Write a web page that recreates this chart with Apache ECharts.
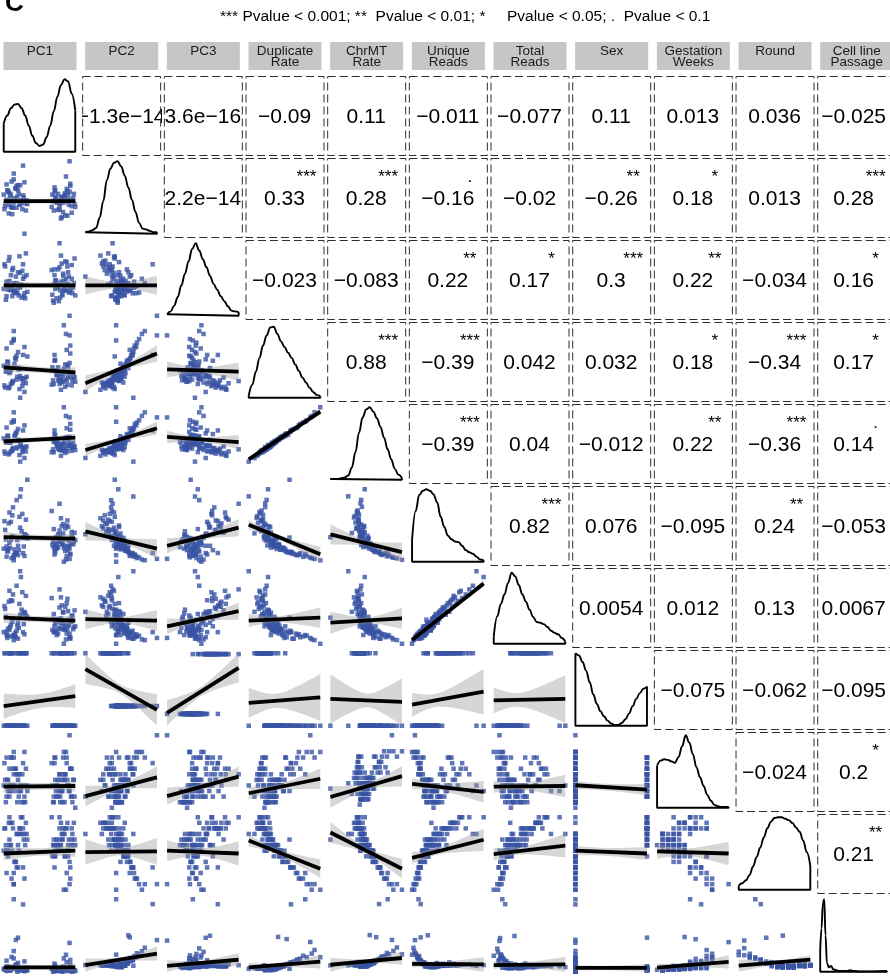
<!DOCTYPE html>
<html>
<head>
<meta charset="utf-8">
<title>pairs plot</title>
<script src="https://cdn.jsdelivr.net/npm/echarts/dist/echarts.min.js"></script>
<style>
  html, body { margin: 0; padding: 0; background: #fff; }
  #main { width: 890px; height: 980px; }
</style>
</head>
<body>
<div id="main"></div>
<script>
// strip labels, one per variable
const varLabels = ['PC1', 'PC2', 'PC3', 'Duplicate\nRate', 'ChrMT\nRate', 'Unique\nReads',
  'Total\nReads', 'Sex', 'Gestation\nWeeks', 'Round', 'Cell line\nPassage'];

// samples: same order in every array
const pc1 = [12,85,90,18,74,95,6,80,22,88, 70,27,93,10,82,76,15,98,3,86, 72,24,91,14,79,31,84,8,96,67,
  20,77,2,89,28,83,16,73,99,11, 68,26,94,5,81,19,87,75,13,92, 30,71,7,97,21,78,4,85,23,90,
  69,17,80,9,95,29,74,1,86,25, 72,12,93,33,83,6,100,20,79,14, 88,0,70,14,91,8,76,32,27,82,
  18,71,4,89,23,84,10,78,29,92];
const pc2 = [36,54,47,66,43,29,58,50,41,62, 45,53,69,37,47,33,49,55,42,25, 60,46,40,75,43,32,51,56,47,37,
  67,45,38,59,50,30,63,49,41,72, 54,34,46,60,23,51,79,43,36,58, 42,64,28,49,55,33,68,47,40,53,
  45,62,21,50,38,71,46,34,56,43, 51,27,66,41,49,59,37,60,42,83, 47,54,32,43,45,40,55,46,94,51,
  36,58,47,25,67,43,54,38,0,100];
const pc3 = [27,41,60,31,24,70,36,47,82,35, 18,51,40,56,28,64,33,45,22,75, 37,43,54,32,25,86,36,48,31,63,
  39,20,68,44,27,58,35,49,79,41, 29,62,37,45,72,32,51,40,66,33, 24,56,76,39,28,67,47,35,59,43,
  21,54,83,36,51,31,44,71,37,25, 48,63,41,33,55,40,28,60,35,45, 74,37,43,36,32,81,39,56,71,31,
  45,64,27,68,39,48,35,100,54,0];
const dupRate = [22,35,28,58,31,17,44,26,12,66, 38,21,72,19,33,24,47,29,36,15, 52,27,31,81,25,20,40,34,23,18,
  63,30,14,45,26,22,55,37,28,76, 42,16,32,50,21,29,88,35,23,48, 27,59,13,33,39,19,68,25,30,43,
  24,53,11,36,28,70,32,17,46,26, 38,20,61,57,31,49,22,41,34,92, 24,44,19,79,36,15,42,29,59,33,
  25,51,37,18,0,100,39,23,8,86];
const chrmtRate = [42,50,47,66,46,40,58,44,34,71, 52,41,77,39,49,43,60,45,53,37, 61,48,47,82,42,39,55,51,45,38,
  70,46,36,59,43,40,62,52,46,79, 56,38,48,60,41,45,88,50,44,59, 45,68,35,51,54,41,72,43,47,57,
  42,64,33,51,44,75,50,39,58,45, 54,40,69,0,48,61,41,55,49,93, 43,57,38,80,52,37,55,46,68,49,
  43,63,51,39,25,100,53,42,30,86];
const uniqueReads = [35,22,48,12,18,41,15,29,62,8, 20,33,10,55,24,38,17,27,31,46, 13,100,22,6,36,58,19,26,33,70,
  9,28,44,16,21,52,11,34,40,5, 23,66,25,14,49,30,3,20,75,18, 37,10,53,24,16,43,7,31,47,21,
  28,12,60,19,35,8,26,56,15,42, 23,64,11,32,39,17,30,22,27,2, 50,18,45,9,29,68,20,36,12,25,
  85,16,21,57,90,0,30,80,38,4];
const totalReads = [30,20,45,18,12,38,21,35,55,14, 16,41,9,60,28,34,12,23,37,51, 17,92,26,11,29,66,24,19,39,63,
  7,22,48,20,27,44,15,31,46,10, 19,71,30,8,53,25,6,33,68,14, 42,16,58,20,22,50,12,27,40,25,
  34,9,64,23,32,13,18,52,19,47, 28,59,7,36,43,11,24,29,21,5, 56,16,41,12,33,73,14,38,16,20,
  80,24,17,62,100,0,26,75,44,8];
const sex = [0,0,1,0,0,1,0,0,1,0, 0,1,0,1,0,1,0,0,0,1, 0,0,1,0,0,1,0,0,0,1,
  0,0,1,0,0,1,0,0,1,0, 0,1,0,0,1,0,0,0,1,0, 0,0,1,0,0,1,0,0,1,0,
  0,0,1,1,1,0,0,1,0,0, 0,1,0,0,1,0,0,1,0,0, 1,0,1,0,0,1,0,1,0,0,
  1,1,0,1,0,0,0,1,1,0];
const gestWeeks = [11,13,12,14,10,15,13,11,14,16, 9,12,15,17,11,10,12,13,9,14, 17,11,12,18,9,15,13,10,9,16,
  14,11,13,12,9,17,15,11,10,17, 12,14,10,13,11,9,18,12,15,11, 9,16,12,13,10,14,17,9,11,12,
  9,15,13,11,10,18,12,16,14,9, 13,12,15,11,14,11,8,13,10,17, 17,12,10,14,11,15,13,12,16,9,
  11,17,10,13,12,18,12,14,10,21];
const roundNo = [8,7,9,5,10,12,8,9,12,4, 9,12,3,13,10,9,6,13,9,12, 7,14,10,2,8,13,8,10,11,14,
  5,10,12,8,10,12,6,9,10,3, 7,14,9,8,11,11,1,9,12,6, 9,5,13,9,8,12,4,11,12,7,
  9,6,13,9,10,3,9,12,7,11, 8,13,5,10,11,7,9,9,9,2, 12,8,10,4,8,14,8,11,5,10,
  11,7,8,13,11,1,9,14,11,2];
const passage = [8,4,6,12,3,5,9,5,4,15, 4,7,18,6,3,5,8,4,5,6, 10,5,4,20,3,7,5,4,2,6,
  14,4,5,7,3,9,11,5,4,22, 6,5,3,9,4,2,25,5,6,8, 3,13,4,5,6,7,17,3,5,6,
  2,45,5,4,6,16,3,5,8,4, 5,6,12,4,5,7,3,48,4,30, 5,6,4,100,3,6,5,4,93,2,
  5,9,3,5,4,20,4,6,5,41];

// diagonal density curves (x: share of the data range, peak = 1)
const densX = [0,0.05,0.1,0.15,0.2,0.25,0.3,0.35,0.4,0.45,0.5,0.55,0.6,0.65,0.7,0.75,0.8,0.85,0.9,0.95,1];
const densPC1 = [0.39,0.5,0.6,0.65,0.66,0.6,0.5,0.36,0.22,0.12,0.08,0.1,0.2,0.36,0.56,0.76,0.92,1,0.97,0.8,0.57];
const densPC2 = [0.02,0.03,0.05,0.08,0.22,0.45,0.74,0.9,0.98,1,0.93,0.8,0.64,0.47,0.3,0.15,0.07,0.06,0.04,0.02,0.02];
const densPC3 = [0.02,0.06,0.14,0.26,0.42,0.58,0.75,0.92,1,0.9,0.78,0.67,0.55,0.44,0.36,0.27,0.2,0.13,0.07,0.06,0.05];
const densDup = [0.03,0.18,0.36,0.55,0.72,0.86,0.97,0.98,0.88,0.78,0.7,0.62,0.55,0.46,0.37,0.28,0.21,0.14,0.08,0.04,0.02];
const densChrMT = [0.01,0.01,0.01,0.02,0.03,0.06,0.17,0.38,0.65,0.86,0.97,1,0.94,0.85,0.73,0.58,0.42,0.28,0.15,0.07,0.02];
const densUnique = [0.3,0.7,0.92,0.98,1,0.98,0.93,0.82,0.62,0.48,0.36,0.31,0.28,0.27,0.22,0.16,0.13,0.11,0.07,0.03,0.02];
const densTotal = [0.1,0.38,0.55,0.68,0.84,0.98,0.93,0.81,0.68,0.58,0.47,0.37,0.3,0.29,0.27,0.23,0.18,0.15,0.13,0.08,0.03];
const densSex = [1,0.97,0.88,0.76,0.6,0.43,0.3,0.2,0.13,0.07,0.03,0.01,0.01,0.04,0.09,0.17,0.27,0.37,0.45,0.51,0.54];
const densGest = [0.58,0.65,0.67,0.66,0.64,0.62,0.7,0.85,1,0.9,0.74,0.56,0.42,0.3,0.18,0.1,0.04,0.02,0.01,0.01,0.01];
const densRound = [0.06,0.09,0.13,0.2,0.32,0.45,0.58,0.72,0.85,0.94,0.99,1,1,0.98,0.96,0.92,0.86,0.8,0.68,0.52,0.33];
const densPassageX = [0,0.02,0.04,0.06,0.08,0.1,0.13,0.16,0.2,0.3,0.4,0.45,0.5,0.6,0.8,1];
const densPassage = [0.3,0.6,0.95,1,0.5,0.12,0.06,0.08,0.03,0.01,0.01,0.02,0.01,0.005,0.005,0.01];

// lm lines of the lower panels: [y at min x, y at max x], in the row variable's 0-1 range
const fitPC2 = [[0.45,0.45]];
const fitPC3 = [[0.42,0.42],[0.42,0.42]];
const fitDup = [[0.42,0.35],[0.20,0.61],[0.39,0.36]];
const fitChrMT = [[0.53,0.58],[0.41,0.71],[0.59,0.52],[0.28,0.94]];
const fitUnique = [[0.34,0.32],[0.42,0.18],[0.22,0.47],[0.50,0.085],[0.36,0.11]];
const fitTotal = [[0.36,0.32],[0.34,0.32],[0.24,0.45],[0.32,0.36],[0.29,0.35],[0.05,0.83]];
const fitSex = [[0.27,0.41],[0.70,-0.075],[0.016,0.77],[0.315,0.39],[0.37,0.33],[0.29,0.47],[0.35,0.37]];
const fitGest = [[0.29,0.30],[0.16,0.42],[0.16,0.43],[0.20,0.40],[0.11,0.41],[0.33,0.22],[0.29,0.30],[0.31,0.25]];
const fitRound = [[0.50,0.54],[0.52,0.53],[0.54,0.50],[0.68,0.29],[0.79,0.29],[0.44,0.69],[0.49,0.61],[0.54,0.50],[0.53,0.50]];
const fitPassage = [[0.06,0.06],[0.03,0.20],[0.03,0.12],[0.04,0.12],[0.03,0.13],[0.05,0.04],[0.05,0.06],[0.05,0.05],[0.04,0.12],[0.03,0.12]];

// correlations in the upper panels (row variable vs every later variable) and their stars
const corPC1 = [-1.3e-14, 3.6e-16, -0.09, 0.11, -0.011, -0.077, 0.11, 0.013, 0.036, -0.025];
const corPC2 = [2.2e-14, 0.33, 0.28, -0.16, -0.02, -0.26, 0.18, 0.013, 0.28];
const corPC3 = [-0.023, -0.083, 0.22, 0.17, 0.3, 0.22, -0.034, 0.16];
const corDup = [0.88, -0.39, 0.042, 0.032, 0.18, -0.34, 0.17];
const corChrMT = [-0.39, 0.04, -0.012, 0.22, -0.36, 0.14];
const corUnique = [0.82, 0.076, -0.095, 0.24, -0.053];
const corTotal = [0.0054, 0.012, 0.13, 0.0067];
const corSex = [-0.075, -0.062, -0.095];
const corGest = [-0.024, 0.2];
const corRound = [0.21];
const sigPC1 = ['', '', '', '', '', '', '', '', '', ''];
const sigPC2 = ['', '***', '***', '.', '', '**', '*', '', '***'];
const sigPC3 = ['', '', '**', '*', '***', '**', '', '*'];
const sigDup = ['***', '***', '', '', '*', '***', '*'];
const sigChrMT = ['***', '', '', '**', '***', '.'];
const sigUnique = ['***', '', '', '**', ''];
const sigTotal = ['', '', '', ''];
const sigSex = ['', '', ''];
const sigGest = ['', '*'];
const sigRound = ['**'];

const titleText = '*** Pvalue < 0.001; **  Pvalue < 0.01; *     Pvalue < 0.05; .  Pvalue < 0.1';

// ---- assemble ----
const vars = [pc1, pc2, pc3, dupRate, chrmtRate, uniqueReads, totalReads, sex, gestWeeks, roundNo, passage];
const dens = [densPC1, densPC2, densPC3, densDup, densChrMT, densUnique, densTotal, densSex, densGest, densRound, densPassage];
const fits = [[], fitPC2, fitPC3, fitDup, fitChrMT, fitUnique, fitTotal, fitSex, fitGest, fitRound, fitPassage];
const cors = [corPC1, corPC2, corPC3, corDup, corChrMT, corUnique, corTotal, corSex, corGest, corRound];
const sigs = [sigPC1, sigPC2, sigPC3, sigDup, sigChrMT, sigUnique, sigTotal, sigSex, sigGest, sigRound];

const FONT = '"Liberation Sans", Arial, Helvetica, sans-serif';
const X0 = 0.5, Y0 = 76, DX = 81.67, DY = 82, PW = 78, PH = 79;
const PAD = 0.045;
const NV = vars.length;
const n = pc1.length;

// every variable shown on its own data range
const norm = vars.map(v => {
  const lo = Math.min(...v), hi = Math.max(...v);
  return v.map(a => (a - lo) / (hi - lo));
});

const grids = [], xAxes = [], yAxes = [], series = [], graphics = [];

function addGrid(i, j, xr, yr) {
  grids.push({ left: X0 + DX * i, top: Y0 + DY * j, width: PW, height: PH, show: false });
  const g = grids.length - 1;
  xAxes.push({ gridIndex: g, type: 'value', min: xr[0], max: xr[1], show: false });
  yAxes.push({ gridIndex: g, type: 'value', min: yr[0], max: yr[1], show: false });
  return g;
}

// 95% confidence band round the lm line
function confBand(xs, ys, fl, fr) {
  const slope = fr - fl;
  let mx = 0;
  xs.forEach(v => { mx += v; });
  mx /= n;
  let sxx = 0, sse = 0;
  for (let k = 0; k < n; k++) {
    sxx += (xs[k] - mx) * (xs[k] - mx);
    const r = ys[k] - (fl + slope * xs[k]);
    sse += r * r;
  }
  const s = Math.sqrt(sse / (n - 2));
  const up = [], lo = [];
  for (let q = 0; q <= 40; q++) {
    const u = q / 40;
    const hw = 1.984 * s * Math.sqrt(1 / n + (u - mx) * (u - mx) / sxx);
    const f = fl + slope * u;
    up.push([u, f + hw]);
    lo.push([u, f - hw]);
  }
  return up.concat(lo.reverse());
}

function fmt(v) { return String(v).replace(/-/g, '\u2212'); }

const xRange = [-PAD, 1 + PAD];

for (let j = 0; j < NV; j++) {
  for (let i = 0; i < NV; i++) {
    if (j > i) {
      // scatter + lm
      const xs = norm[i], ys = norm[j];
      const [fl, fr] = fits[j][i];
      const band = confBand(xs, ys, fl, fr);
      let lo = 0, hi = 1;
      band.forEach(p => { lo = Math.min(lo, p[1]); hi = Math.max(hi, p[1]); });
      const r = hi - lo;
      const g = addGrid(i, j, xRange, [lo - PAD * r, hi + PAD * r]);
      series.push({
        type: 'scatter', xAxisIndex: g, yAxisIndex: g, silent: true, z: 2,
        symbol: 'rect', symbolSize: 4.5,
        itemStyle: { color: '#3a54a4' },
        data: xs.map((x, k) => [x, ys[k]])
      });
      series.push({
        type: 'custom', xAxisIndex: g, yAxisIndex: g, silent: true, z: 3,
        data: [[0, 0]],
        renderItem: (params, api) => ({
          type: 'polygon',
          shape: { points: band.map(p => api.coord(p)) },
          style: { fill: 'rgba(153,153,153,0.4)' }
        })
      });
      series.push({
        type: 'line', xAxisIndex: g, yAxisIndex: g, silent: true, z: 4,
        symbol: 'none', lineStyle: { color: '#000', width: 3.8 },
        data: [[0, fl], [1, fr]]
      });
    } else if (j === i) {
      // density outline
      const g = addGrid(i, j, xRange, [-PAD, 1 + PAD]);
      const dy = dens[i];
      const dx = i === NV - 1 ? densPassageX : densX;
      series.push({
        type: 'line', xAxisIndex: g, yAxisIndex: g, silent: true, z: 3,
        symbol: 'none', smooth: 0.4, smoothMonotone: 'x',
        lineStyle: { color: '#000', width: 1.9 },
        data: dx.map((x, k) => [x, dy[k]])
      });
      series.push({
        type: 'line', xAxisIndex: g, yAxisIndex: g, silent: true, z: 3,
        symbol: 'none', lineStyle: { color: '#000', width: 1.9 },
        data: [[0, dy[0]], [0, 0], [1, 0], [1, dy[dy.length - 1]]]
      });
    } else {
      // correlation text, clipped to the panel
      const g = addGrid(i, j, [0, 1], [0, 1]);
      const label = fmt(cors[j][i - j - 1]);
      const stars = sigs[j][i - j - 1];
      series.push({
        type: 'custom', xAxisIndex: g, yAxisIndex: g, silent: true, clip: true,
        data: [[0.5, 0.5]],
        renderItem: (params, api) => {
          const tl = api.coord([0, 1]), br = api.coord([1, 0]);
          const cx = (tl[0] + br[0]) / 2;
          return {
            type: 'group',
            children: [
              { type: 'text', style: { x: cx, y: tl[1] + 41, text: label, font: '21px ' + FONT, fill: '#000',
                align: 'center', verticalAlign: 'middle', textAlign: 'center', textVerticalAlign: 'middle' } },
              { type: 'text', style: { x: cx + 22, y: tl[1] + 19, text: stars, font: '17px ' + FONT, fill: '#000',
                align: 'center', verticalAlign: 'middle', textAlign: 'center', textVerticalAlign: 'middle' } }
            ]
          };
        }
      });
      graphics.push({
        type: 'rect', silent: true, z: 10,
        shape: { x: X0 + DX * i + 0.5, y: Y0 + DY * j + 0.5, width: PW, height: PH },
        style: { fill: 'none', stroke: '#2e2e2e', lineWidth: 1, lineDash: [8, 4] }
      });
    }
  }
}

// strips
for (let i = 0; i < NV; i++) {
  const sx = X0 + DX * i + 3;
  graphics.push({
    type: 'rect', silent: true, z: 1,
    shape: { x: sx, y: 42, width: 73, height: 28 },
    style: { fill: '#c6c6c6' }
  });
  graphics.push({
    type: 'text', silent: true, z: 2,
    style: { x: sx + 36.5, y: 46, text: varLabels[i], font: '13.5px ' + FONT, fill: '#1a1a1a', lineHeight: 11,
      align: 'center', verticalAlign: 'top', textAlign: 'center', textVerticalAlign: 'top' }
  });
}

graphics.push({
  type: 'text', silent: true,
  style: { x: 220, y: 17, text: titleText, font: '15.5px ' + FONT, fill: '#000',
    align: 'left', verticalAlign: 'middle', textAlign: 'left', textVerticalAlign: 'middle' }
});
graphics.push({
  type: 'text', silent: true,
  style: { x: 5, y: 4, text: 'C', font: 'bold 26px ' + FONT, fill: '#000',
    align: 'left', verticalAlign: 'middle', textAlign: 'left', textVerticalAlign: 'middle' }
});

const chart = echarts.init(document.getElementById('main'));
chart.setOption({
  animation: false,
  backgroundColor: '#fff',
  grid: grids,
  xAxis: xAxes,
  yAxis: yAxes,
  series: series,
  graphic: { elements: graphics }
});
</script>
</body>
</html>
